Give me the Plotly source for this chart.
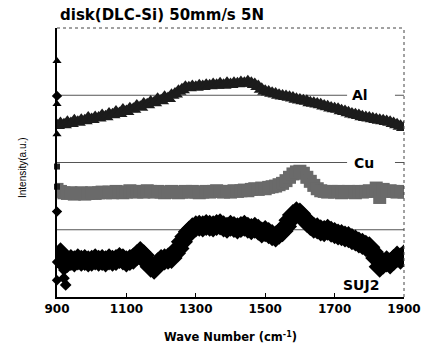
import plotly.graph_objects as go

# ---------------- data ----------------
wavenumber = list(range(900, 1901, 10))

al = [1.55, 1.58, 1.56, 1.60, 1.58, 1.62, 1.60, 1.63, 1.62, 1.66,
      1.64, 1.67, 1.66, 1.70, 1.68, 1.72, 1.71, 1.75, 1.73, 1.78,
      1.76, 1.80, 1.79, 1.84, 1.82, 1.87, 1.86, 1.90, 1.89, 1.94,
      1.92, 1.97, 1.95, 2.00, 2.02, 2.06, 2.08, 2.12, 2.11, 2.13,
      2.12, 2.14, 2.13, 2.15, 2.14, 2.16, 2.15, 2.17, 2.15, 2.18,
      2.16, 2.18, 2.17, 2.19, 2.18, 2.20, 2.18, 2.16, 2.13, 2.09,
      2.06, 2.05, 2.03, 2.02, 2.00, 1.99, 1.98, 1.97, 1.96, 1.94,
      1.93, 1.92, 1.91, 1.89, 1.88, 1.87, 1.86, 1.84, 1.83, 1.81,
      1.80, 1.79, 1.77, 1.76, 1.74, 1.72, 1.71, 1.70, 1.68, 1.67,
      1.66, 1.65, 1.64, 1.63, 1.62, 1.61, 1.60, 1.58, 1.56, 1.54,
      1.52]

cu = [0.60, 0.57, 0.55, 0.54, 0.55, 0.53, 0.54, 0.55, 0.53, 0.54,
      0.55, 0.54, 0.55, 0.56, 0.55, 0.56, 0.55, 0.57, 0.56, 0.55,
      0.56, 0.58, 0.57, 0.56, 0.57, 0.56, 0.58, 0.57, 0.56, 0.57,
      0.56, 0.55, 0.56, 0.57, 0.56, 0.55, 0.56, 0.57, 0.56, 0.57,
      0.56, 0.55, 0.56, 0.57, 0.56, 0.57, 0.58, 0.57, 0.56, 0.57,
      0.56, 0.58, 0.57, 0.58, 0.59, 0.58, 0.60, 0.61, 0.60, 0.62,
      0.61, 0.63, 0.64, 0.65, 0.67, 0.69, 0.73, 0.78, 0.83, 0.86,
      0.87, 0.84, 0.78, 0.72, 0.66, 0.61, 0.58, 0.57, 0.56, 0.57,
      0.56, 0.57, 0.55, 0.56, 0.57, 0.56, 0.55, 0.57, 0.56, 0.57,
      0.58, 0.57, 0.62, 0.48, 0.60, 0.57, 0.58, 0.57, 0.56, 0.57,
      0.56]

suj2 = [-0.40, -0.35, -0.50, -0.48, -0.45, -0.47, -0.44, -0.46, -0.45, -0.47,
        -0.46, -0.44, -0.46, -0.45, -0.47, -0.44, -0.46, -0.45, -0.42, -0.44,
        -0.47, -0.45, -0.43, -0.38, -0.33, -0.38, -0.48, -0.55, -0.58, -0.50,
        -0.45, -0.44, -0.43, -0.42, -0.35, -0.28, -0.18, -0.10, -0.03, 0.02,
        0.05, 0.06, 0.05, 0.07, 0.06, 0.05, 0.07, 0.08, 0.05, 0.03,
        0.06, 0.04, 0.02, 0.04, 0.06, 0.03, 0.01, 0.03, 0.00, -0.04,
        -0.02, -0.05, -0.08, -0.10, -0.06, -0.02, 0.05, 0.14, 0.22, 0.26,
        0.24, 0.18, 0.12, 0.07, 0.03, 0.02, -0.01, -0.02, 0.00, -0.03,
        -0.05, -0.07, -0.08, -0.10, -0.11, -0.14, -0.16, -0.19, -0.21, -0.24,
        -0.26, -0.33, -0.42, -0.55, -0.50, -0.47, -0.50, -0.45, -0.40, -0.43,
        -0.38]

suj2_spike_x = [920, 920, 925]
suj2_spike_y = [-0.60, -0.72, -0.82]

# marks sitting on the intensity axis
axis_tri_y = [2.51, 1.87, 1.42]
axis_sq_y = [0.94, 0.64]
axis_dia_y = [1.99, 0.27, -0.48, -0.75]

baseline_levels = [2, 1, 0]
labels = ["Al", "Cu", "SUJ2"]
x_ticks = [900, 1100, 1300, 1500, 1700, 1900]

# ---------------- figure ----------------
fig = go.Figure()

fig.add_trace(go.Scatter(x=wavenumber, y=al, mode="markers",
                         marker=dict(symbol="triangle-up", size=14, color="#1c1c1c",
                                     line=dict(width=0))))
fig.add_trace(go.Scatter(x=wavenumber, y=cu, mode="markers",
                         marker=dict(symbol="square", size=13, color="#6a6a6a",
                                     line=dict(width=0))))
fig.add_trace(go.Scatter(x=wavenumber, y=suj2, mode="markers",
                         marker=dict(symbol="diamond", size=17, color="#000000",
                                     line=dict(width=0))))
fig.add_trace(go.Scatter(x=suj2_spike_x, y=suj2_spike_y, mode="markers",
                         marker=dict(symbol="diamond", size=9, color="#000000",
                                     line=dict(width=0))))
fig.add_trace(go.Scatter(x=[900] * len(axis_tri_y), y=axis_tri_y, mode="markers",
                         marker=dict(symbol="triangle-up", size=8, color="#000"),
                         cliponaxis=False))
fig.add_trace(go.Scatter(x=[900] * len(axis_sq_y), y=axis_sq_y, mode="markers",
                         marker=dict(symbol="square", size=6, color="#222"),
                         cliponaxis=False))
fig.add_trace(go.Scatter(x=[900] * len(axis_dia_y), y=axis_dia_y, mode="markers",
                         marker=dict(symbol="diamond", size=8, color="#000"),
                         cliponaxis=False))

shapes = []
gap_start, gap_end = 1736, 1874
for lvl in baseline_levels:
    if lvl == 0:
        segs = [(900, 1900)]
    else:
        segs = [(900, gap_start), (gap_end, 1900)]
    for a, b in segs:
        shapes.append(dict(type="line", xref="x", yref="y", x0=a, x1=b, y0=lvl, y1=lvl,
                           line=dict(color="#555555", width=1), layer="below"))
# dotted frame top and right
shapes.append(dict(type="line", xref="paper", yref="paper", x0=0, x1=1, y0=1, y1=1,
                   line=dict(color="#444444", width=1, dash="dot")))
shapes.append(dict(type="line", xref="paper", yref="paper", x0=1, x1=1, y0=0, y1=1,
                   line=dict(color="#444444", width=1, dash="dot")))

label_font = dict(family="DejaVu Sans", size=14, color="#000", weight="bold")
annotations = [
    dict(x=1773, y=baseline_levels[0], xref="x", yref="y", text=labels[0],
         showarrow=False, font=label_font),
    dict(x=1785, y=baseline_levels[1], xref="x", yref="y", text=labels[1],
         showarrow=False, font=label_font),
    dict(x=1776, y=-0.82, xref="x", yref="y", text=labels[2],
         showarrow=False, font=label_font),
    dict(x=-0.101, y=0.483, xref="paper", yref="paper", text="Intensity(a.u.)",
         textangle=-90, showarrow=False, xanchor="center", yanchor="middle",
         font=dict(family="Liberation Sans Narrow, Liberation Sans", size=10, color="#000")),
]

fig.update_layout(
    width=424, height=345,
    margin=dict(l=57, r=20, t=28, b=48, autoexpand=False),
    paper_bgcolor="white", plot_bgcolor="white",
    showlegend=False,
    shapes=shapes,
    annotations=annotations,
    title=dict(text="disk(DLC-Si) 50mm/s 5N", x=60 / 424, xanchor="left",
               y=1 - 15 / 345, yanchor="middle",
               font=dict(family="DejaVu Sans", size=15, color="#000", weight="bold")),
    xaxis=dict(range=[900, 1900], tickvals=x_ticks, ticktext=[str(t) for t in x_ticks],
               automargin=False,
               showgrid=False, zeroline=False, showline=True, linecolor="#000", linewidth=2,
               ticks="inside", ticklen=4, tickcolor="#000",
               tickfont=dict(family="DejaVu Sans", size=12, color="#000", weight="bold"),
               title=dict(text="Wave Number (cm<sup>-1</sup>)", standoff=18,
                          font=dict(family="DejaVu Sans", size=11.5, color="#000", weight="bold"))),
    yaxis=dict(range=[-1, 3], showgrid=False, zeroline=False, showticklabels=False,
               automargin=False,
               showline=True, linecolor="#000", linewidth=1.5, ticks=""),
)

fig.write_html("out.html", config={"displayModeBar": False},
               post_script="document.body.style.margin='0';document.body.style.padding='0';")
